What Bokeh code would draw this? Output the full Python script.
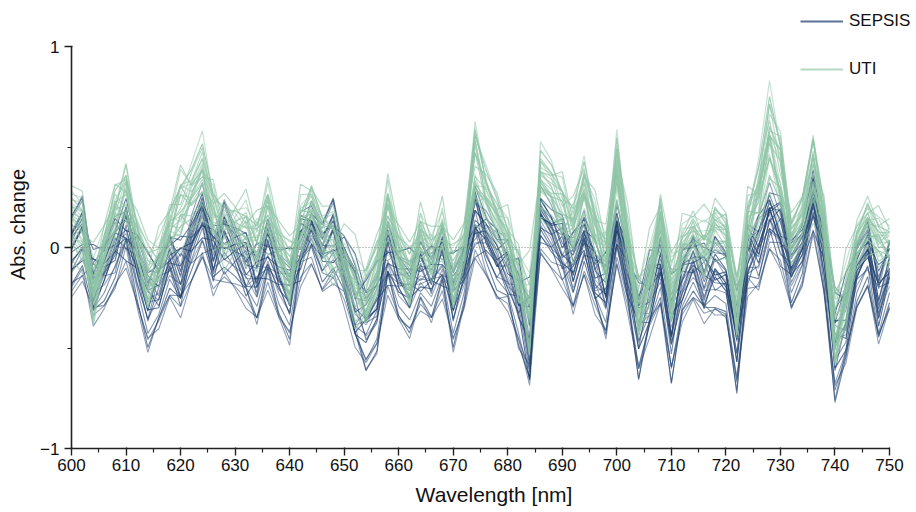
import numpy as np
from bokeh.plotting import figure
from bokeh.models import Range1d, FixedTicker, Legend, LegendItem
from bokeh.embed import file_html
from bokeh.resources import INLINE

# ---- data (2 nm steps) ----
wavelength = list(range(600, 751, 2))

uti_mean = [
    0.12, 0.07, -0.21, -0.01, 0.15, 0.22, 0.03, -0.15, -0.08, 0.08,
    0.18, 0.23, 0.32, 0.15, 0.07, 0.08, 0.07, 0.02, 0.15, 0.00,
    -0.13, 0.08, 0.17, 0.05, 0.00, -0.08, -0.20, -0.25, -0.10, 0.15,
    -0.02, -0.15, 0.05, -0.05, 0.05, -0.15, 0.00, 0.37, 0.23, 0.12,
    0.02, -0.15, -0.30, 0.30, 0.25, 0.16, 0.08, 0.26, 0.08, -0.05,
    0.35, 0.02, -0.30, -0.15, 0.12, -0.21, -0.01, 0.05, -0.01, 0.08,
    0.05, -0.30, 0.10, 0.23, 0.50, 0.33, 0.03, 0.13, 0.35, 0.10,
    -0.40, -0.23, 0.00, 0.10, 0.03, 0.00,
]

sepsis_mean = [
    -0.02, 0.06, -0.16, -0.10, 0.00, 0.10, -0.08, -0.25, -0.18, -0.05,
    -0.12, 0.02, 0.14, -0.03, 0.05, -0.01, -0.08, -0.15, 0.00, -0.14,
    -0.22, 0.02, 0.10, -0.02, 0.05, -0.08, -0.25, -0.35, -0.27, -0.02,
    -0.15, -0.20, -0.10, -0.15, -0.04, -0.25, -0.10, 0.15, 0.05, -0.05,
    -0.10, -0.25, -0.42, 0.15, 0.08, 0.01, -0.10, 0.05, -0.11, -0.21,
    0.10, -0.11, -0.38, -0.21, -0.08, -0.38, -0.15, -0.06, -0.15, -0.11,
    -0.14, -0.43, -0.03, 0.00, 0.17, 0.10, -0.10, 0.00, 0.25, -0.03,
    -0.46, -0.33, -0.10, 0.00, -0.25, -0.10,
]

variant = [
    0.08, 0.10, -0.05, 0.02, 0.06, -0.04, 0.05, 0.08, -0.02, 0.03,
    -0.06, 0.04, 0.07, -0.03, 0.09, 0.02, -0.05, 0.06, -0.04, 0.03,
    0.08, -0.06, 0.02, 0.05, 0.10, -0.03, -0.07, 0.04, 0.06, -0.05,
    0.03, 0.07, -0.02, 0.05, -0.04, 0.08, 0.02, -0.06, 0.03, 0.05,
    -0.03, 0.06, -0.08, 0.04, 0.02, -0.05, 0.07, 0.03, -0.04, 0.06,
    0.02, -0.03, 0.05, -0.06, 0.04, 0.08, -0.02, 0.03, -0.05, 0.06,
    0.02, 0.05, -0.04, 0.07, 0.03, -0.06, 0.04, 0.02, -0.03, 0.05,
    0.06, -0.04, 0.03, 0.05, -0.02, 0.04,
]

baseline = [0.0] * len(wavelength)
no_values = [float("nan")] * len(wavelength)

uti_offsets = [-0.10, -0.07, -0.05, -0.04, -0.02, -0.01, 0.00, 0.01, 0.02, 0.03, 0.04, 0.05,
               0.06, 0.08, 0.10, 0.12, -0.03, 0.00, 0.02, 0.07, -0.06, 0.03, 0.15, -0.08]
uti_gains = [0.70, 0.90, 1.10, 0.80, 1.30, 1.00, 1.20, 0.85, 1.05, 1.40, 0.95, 1.15,
             0.75, 1.25, 1.00, 0.90, 1.45, 1.10, 0.80, 1.35, 1.05, 1.55, 0.95, 1.20]
uti_weights = [0.8, -1.2, 1.5, 0.0, -0.8, 1.2, -1.5, 0.4, 0.9, -0.5, 1.4, -0.9,
               0.3, -1.4, 1.1, -0.3, 0.6, -1.1, 1.5, 0.2, -0.6, 0.8, -1.5, 1.2]
uti_alphas = [0.55, 0.7, 0.5, 0.75, 0.6, 0.5, 0.8, 0.65, 0.55, 0.7, 0.5, 0.6,
              0.75, 0.55, 0.65, 0.5, 0.6, 0.7, 0.55, 0.8, 0.6, 0.5, 0.65, 0.7]

sepsis_offsets = [-0.15, -0.10, -0.08, -0.05, -0.03, -0.02, 0.00, 0.01, 0.03, 0.05, 0.07, 0.10,
                  -0.12, -0.06, 0.02, 0.04, -0.20, 0.08, -0.01, -0.04, 0.12, -0.09, 0.06, -0.18]
sepsis_gains = [1.20, 0.90, 1.00, 1.30, 0.80, 1.10, 0.95, 1.25, 0.70, 1.05, 0.85, 1.15,
                1.35, 1.00, 0.90, 1.20, 1.10, 0.75, 1.30, 0.95, 1.00, 1.35, 0.80, 1.05]
sepsis_weights = [-0.9, 1.4, -0.3, 0.8, -1.6, 0.5, 1.2, -0.8, 1.6, -1.2, 0.2, 0.9,
                  -0.5, 1.1, -1.4, 0.6, 0.3, -1.1, 0.8, 1.5, -0.6, 0.0, 1.4, -0.2]
sepsis_alphas = [0.5, 0.65, 0.45, 0.75, 0.55, 0.4, 0.7, 0.6, 0.45, 0.8, 0.55, 0.5,
                 0.65, 0.45, 0.75, 0.6, 0.5, 0.7, 0.55, 0.45, 0.65, 0.55, 0.75, 0.5]

x_ticks = list(range(600, 751, 10))
x_minor = list(range(605, 750, 10))
y_ticks = [-1, 0, 1]
y_minor = [-0.5, 0.5]

FONT = "Liberation Sans"
SEPSIS_COLOR = "#1f416f"
UTI_COLOR = "#8fc4a7"

# frame extended right/up so the legend lies inside it; axes bounded to data range
p = figure(width=916, height=512, output_backend="svg", toolbar_location=None,
           x_range=Range1d(600, 754.95), y_range=Range1d(-1, 1.229),
           min_border_left=71, min_border_right=0, min_border_top=0, min_border_bottom=64)
p.outline_line_color = None
p.xgrid.visible = False
p.ygrid.visible = False
p.background_fill_color = "white"

wl = np.array(wavelength, dtype=float)
um = np.array(uti_mean)
sm = np.array(sepsis_mean)
vr = np.array(variant)

for o, g, w, a in zip(sepsis_offsets, sepsis_gains, sepsis_weights, sepsis_alphas):
    p.line(wl, sm * g + o + w * vr, line_color=SEPSIS_COLOR, line_alpha=a, line_width=1.1)

for o, g, w, a in zip(uti_offsets, uti_gains, uti_weights, uti_alphas):
    p.line(wl, um * g + o + w * vr, line_color=UTI_COLOR, line_alpha=a, line_width=1.2)

p.line(wl, baseline, line_color="#808080", line_dash="1 2", line_width=1, line_alpha=0.9)

# legend-only renderers (all values missing, so nothing is drawn in the plot)
leg_sep = p.line(wl, no_values, line_color="#5a7396", line_width=2.2)
leg_uti = p.line(wl, no_values, line_color="#b6d9c6", line_width=2.2)

for ax in (p.xaxis[0], p.yaxis[0]):
    ax.axis_line_color = "#222222"
    ax.axis_line_width = 1.6
    ax.major_tick_line_color = "#222222"
    ax.minor_tick_line_color = "#222222"
    ax.major_tick_line_width = 1.4
    ax.minor_tick_line_width = 1.2
    ax.major_tick_out = 7
    ax.major_tick_in = 1
    ax.minor_tick_out = 4
    ax.minor_tick_in = 0
    ax.major_label_text_font = FONT
    ax.major_label_text_font_size = "17px"
    ax.major_label_text_color = "#111111"
    ax.axis_label_text_font = FONT
    ax.axis_label_text_font_style = "normal"
    ax.axis_label_text_color = "#111111"

p.xaxis.bounds = (600, 750)
p.yaxis.bounds = (-1, 1)
p.xaxis.ticker = FixedTicker(ticks=x_ticks, minor_ticks=x_minor)
p.yaxis.ticker = FixedTicker(ticks=y_ticks, minor_ticks=y_minor)
p.xaxis.axis_label = "Wavelength [nm]"
p.yaxis.axis_label = "Abs. change"
p.xaxis.axis_label_text_font_size = "21px"
p.yaxis.axis_label_text_font_size = "20px"
p.xaxis.major_label_standoff = 3
p.xaxis.axis_label_standoff = 9
p.yaxis.major_label_standoff = 5
p.yaxis.axis_label_standoff = 8

legend = Legend(items=[LegendItem(label="SEPSIS", renderers=[leg_sep]),
                       LegendItem(label="UTI", renderers=[leg_uti])],
                location=(729, 369), orientation="vertical")
legend.glyph_width = 43
legend.glyph_height = 20
legend.label_standoff = 6
legend.padding = 0
legend.spacing = 28
legend.margin = 0
legend.label_text_font = FONT
legend.label_text_font_size = "17px"
legend.label_text_color = "#111111"
legend.background_fill_alpha = 0
legend.border_line_alpha = 0
p.add_layout(legend, "center")

open("out.html", "w").write(file_html(p, INLINE))
